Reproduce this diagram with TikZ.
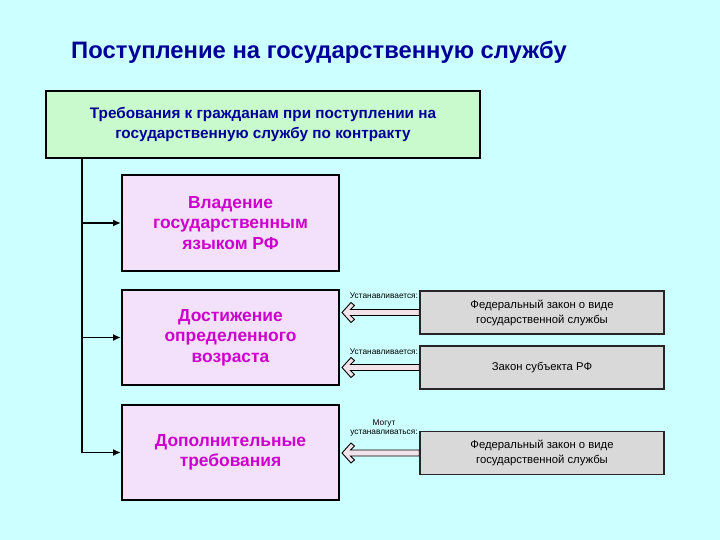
\documentclass[tikz,border=0pt]{standalone}
\usepackage{fontspec}
\setmainfont{Liberation Sans}
\usetikzlibrary{arrows.meta}
\definecolor{bgc}{HTML}{CCFFFF}
\definecolor{greenf}{HTML}{C8FACD}
\definecolor{purpf}{HTML}{F3E0FA}
\definecolor{grayf}{HTML}{D9D9D9}
\definecolor{navy}{HTML}{000099}
\definecolor{magtext}{HTML}{CC00CC}
\definecolor{arrin}{HTML}{F2E2EA}
\tikzset{
  titlebox/.style={font=\fontsize{23.8}{28}\selectfont\bfseries, text=navy},
  reqbox/.style={draw=black, line width=2pt, fill=greenf, minimum width=434pt, minimum height=67pt, align=center, font=\fontsize{15.3}{19.5}\selectfont\bfseries, text=navy},
  purpbox/.style={draw=black, line width=2pt, fill=purpf, minimum width=217pt, minimum height=95pt, align=center, font=\fontsize{17.4}{20.5}\selectfont\bfseries, text=magtext},
  graybox/.style={draw=black!85, line width=1.5pt, fill=grayf, minimum width=244pt, minimum height=43pt, align=center, font=\fontsize{11.3}{15}\selectfont},
  smalllab/.style={font=\fontsize{8.3}{9}\selectfont, align=center, inner sep=0pt},
  conn/.style={line width=1.8pt, -{Latex[length=8pt,width=7pt]}},
  harrowpoly/.style={draw=black, line width=0.9pt, fill=arrin, line join=miter},
}
\newcommand\hollowarrow[2]{% #1 source node, #2 tip coordinate
  \filldraw[harrowpoly] (#2) -- ++(9,-10) -- ++(3.5,3) -- ++(-4,4)
    -- ([yshift=3pt]#1.west) -- ([yshift=-3pt]#1.west)
    -- ([xshift=8.5pt,yshift=-3pt]#2) -- ++(4,4) -- ++(-3.5,3) -- cycle;}
\begin{document}
\begin{tikzpicture}[x=1pt,y=-1pt]
\fill[bgc] (0,0) rectangle (720,540);
\useasboundingbox (0,0) rectangle (720,540);
\node[titlebox] (title) at (319,52) {Поступление на государственную службу};
\node[reqbox] (req) at (263,124.5) {Требования к гражданам при поступлении на\\государственную службу по контракту};
\node[purpbox] (p1) at (230.5,223) {Владение\\государственным\\языком РФ};
\node[purpbox] (p2) at (230.5,337.5) {Достижение\\определенного\\возраста};
\node[purpbox] (p3) at (230.5,452.5) {Дополнительные\\требования};
\node[graybox] (g1) at (542,312.5) {Федеральный закон о виде\\государственной службы};
\node[graybox] (g2) at (542,367.5) {Закон субъекта РФ};
\node[graybox] (g3) at (542,453) {Федеральный закон о виде\\государственной службы};
\node[smalllab] (l1) at (384,296) {Устанавливается:};
\node[smalllab] (l2) at (384,352) {Устанавливается:};
\node[smalllab] (l3) at (384,428.5) {Могут\\устанавливаться:};
\coordinate (trunk) at (82,158);
\draw[conn] (trunk) |- (p1.west);
\draw[conn] (trunk) |- (p2.west);
\draw[conn] (trunk) |- (p3.west);
\coordinate (t1) at ([xshift=2pt]p2.east |- g1.west);
\coordinate (t2) at ([xshift=2pt]p2.east |- g2.west);
\coordinate (t3) at ([xshift=2pt]p3.east |- g3.west);
\hollowarrow{g1}{t1}
\hollowarrow{g2}{t2}
\hollowarrow{g3}{t3}
\end{tikzpicture}
\end{document}
